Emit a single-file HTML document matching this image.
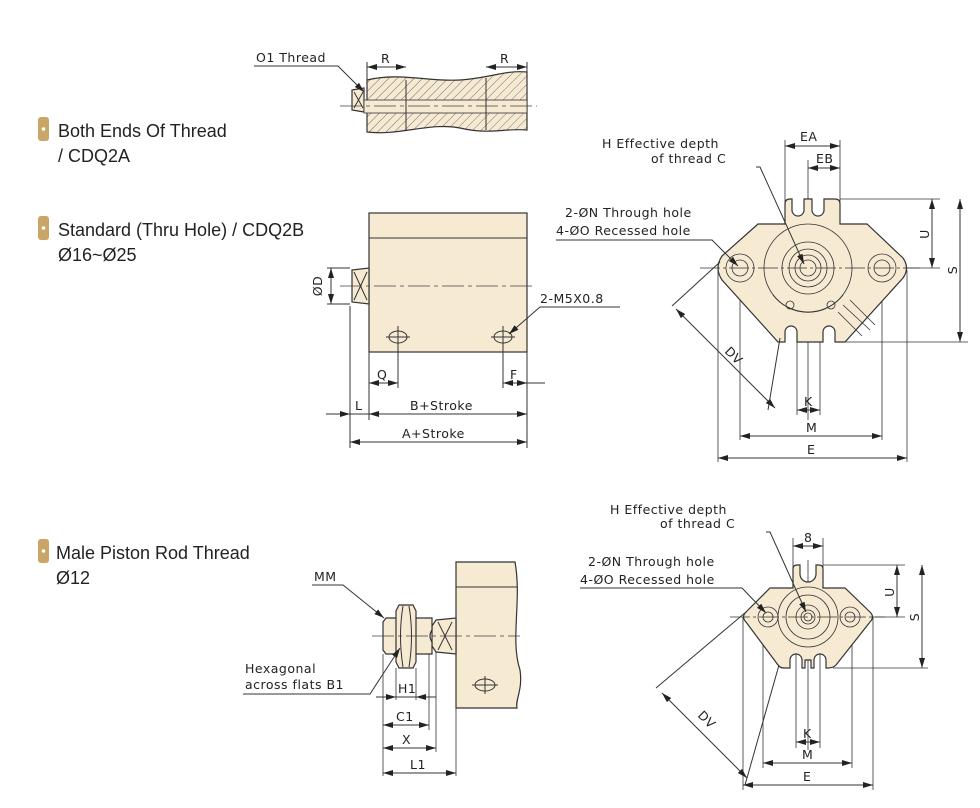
<!DOCTYPE html>
<html><head><meta charset="utf-8"><style>
body{margin:0;background:#fff;width:980px;height:808px;overflow:hidden}
svg{display:block}
.t{font-family:"Liberation Sans",sans-serif;font-size:18px;fill:#222}
.d{font-family:"DejaVu Sans","Liberation Sans",sans-serif;font-size:12.5px;fill:#222;letter-spacing:0.5px}
.s{stroke:#333;stroke-width:1;fill:none}
.f{fill:#f6ead3;stroke:#333;stroke-width:1.2}
.c{stroke:#444;stroke-width:0.8;fill:none;stroke-dasharray:22 4 4 4}
</style></head><body>
<svg width="980" height="808" viewBox="0 0 980 808">
<defs>
<marker id="a" viewBox="0 0 10 6" refX="10" refY="3" markerWidth="10" markerHeight="6" orient="auto-start-reverse"><path d="M0,0L10,3L0,6z" fill="#222"/></marker>
<pattern id="h" width="6" height="6" patternUnits="userSpaceOnUse" patternTransform="rotate(45)"><rect width="6" height="6" fill="#f6ead3"/><line x1="0" y1="0" x2="0" y2="6" stroke="#555" stroke-width="0.8"/></pattern>
</defs>
<!-- bullets -->
<g fill="#c9a667"><rect x="38" y="117" width="11" height="24" rx="3"/><rect x="38" y="216" width="11" height="24" rx="3"/><rect x="38" y="539" width="11" height="24" rx="3"/></g>
<g fill="#fff"><circle cx="43.5" cy="129" r="1.8"/><circle cx="43.5" cy="228" r="1.8"/><circle cx="43.5" cy="551" r="1.8"/></g>
<text class="t" x="58" y="137">Both Ends Of Thread</text>
<text class="t" x="58" y="162">/ CDQ2A</text>
<text class="t" x="58" y="236">Standard (Thru Hole) / CDQ2B</text>
<text class="t" x="58" y="261">Ø16~Ø25</text>
<text class="t" x="56" y="559">Male Piston Rod Thread</text>
<text class="t" x="56" y="584">Ø12</text>

<!-- top sectional -->
<path class="f" d="M352,90 L364,88 L364,112 L352,110 Z"/>
<path d="M367,80 C400,72 430,82 460,80 C490,78 505,70 527,72 L527,130 C505,128 490,135 460,128 C430,122 400,136 367,132 Z" fill="url(#h)" stroke="#333" stroke-width="1.2"/>
<rect x="364" y="100" width="163" height="13" fill="#f6ead3" stroke="#333" stroke-width="0.8"/>
<line class="s" x1="406" y1="80" x2="406" y2="130"/><line class="s" x1="486" y1="78" x2="486" y2="130"/>
<line class="c" x1="340" y1="106" x2="537" y2="106"/>
<line class="s" x1="354" y1="92" x2="363" y2="108"/><line class="s" x1="363" y1="92" x2="354" y2="108"/>
<line class="s" x1="367" y1="62" x2="367" y2="80"/><line class="s" x1="527" y1="62" x2="527" y2="72"/>
<line class="s" x1="367" y1="67" x2="406" y2="67" marker-start="url(#a)" marker-end="url(#a)"/>
<line class="s" x1="486" y1="67" x2="527" y2="67" marker-start="url(#a)" marker-end="url(#a)"/>
<text class="d" x="381" y="63">R</text><text class="d" x="500" y="63">R</text>
<text class="d" x="256" y="62">O1 Thread</text>
<polyline class="s" points="254,66 338,66 364,92" marker-end="url(#a)"/>

<!-- middle body -->
<rect class="f" x="369" y="213" width="158" height="139"/>
<line class="s" x1="369" y1="238" x2="527" y2="238"/>
<path class="f" d="M352,270 L369,268 L369,304 L352,302 Z"/>
<line class="s" x1="354" y1="272" x2="367" y2="300"/><line class="s" x1="367" y1="272" x2="354" y2="300"/>
<line class="c" x1="340" y1="286" x2="535" y2="286"/>
<ellipse class="s" cx="398" cy="337" rx="9" ry="6"/><ellipse class="s" cx="503" cy="337" rx="9" ry="6"/>
<line class="s" x1="386" y1="337" x2="410" y2="337"/><line class="s" x1="491" y1="337" x2="515" y2="337"/>
<line class="s" x1="398" y1="326" x2="398" y2="388"/><line class="s" x1="503" y1="326" x2="503" y2="388"/>
<line class="s" x1="327" y1="268" x2="350" y2="268"/><line class="s" x1="327" y1="304" x2="350" y2="304"/>
<line class="s" x1="331" y1="268" x2="331" y2="304" marker-start="url(#a)" marker-end="url(#a)"/>
<text class="d" transform="translate(322,286) rotate(-90)" text-anchor="middle">ØD</text>
<line class="s" x1="350" y1="306" x2="350" y2="448"/><line class="s" x1="369" y1="352" x2="369" y2="420"/><line class="s" x1="527" y1="352" x2="527" y2="448"/>
<line class="s" x1="369" y1="383" x2="398" y2="383" marker-start="url(#a)" marker-end="url(#a)"/>
<line class="s" x1="503" y1="383" x2="527" y2="383" marker-start="url(#a)" marker-end="url(#a)"/>
<line class="s" x1="527" y1="383" x2="545" y2="383"/>
<text class="d" x="377" y="379">Q</text><text class="d" x="510" y="379">F</text>
<line class="s" x1="326" y1="414" x2="350" y2="414" marker-end="url(#a)"/>
<line class="s" x1="350" y1="414" x2="369" y2="414"/>
<line class="s" x1="369" y1="414" x2="527" y2="414" marker-start="url(#a)" marker-end="url(#a)"/>
<text class="d" x="355" y="410">L</text><text class="d" x="410" y="410">B+Stroke</text>
<line class="s" x1="350" y1="442" x2="527" y2="442" marker-start="url(#a)" marker-end="url(#a)"/>
<text class="d" x="402" y="438">A+Stroke</text>
<text class="d" x="540" y="303">2-M5X0.8</text>
<polyline class="s" points="620,307 540,307 509,334" marker-end="url(#a)"/>

<!-- top right flange -->
<g stroke="#333" stroke-width="0.8" fill="none">
<line x1="785" y1="140" x2="785" y2="210"/><line x1="840" y1="140" x2="840" y2="210"/><line x1="808" y1="160" x2="808" y2="420"/>
<line x1="840" y1="199" x2="940" y2="199"/><line x1="880" y1="268" x2="940" y2="268"/><line x1="845" y1="342" x2="968" y2="342"/>
<line x1="718" y1="270" x2="718" y2="462"/><line x1="907" y1="270" x2="907" y2="462"/>
<line x1="740" y1="268" x2="740" y2="440"/><line x1="882" y1="268" x2="882" y2="440"/>
<line x1="797" y1="320" x2="797" y2="415"/><line x1="820" y1="320" x2="820" y2="415"/>
</g>
<path class="f" d="M785,204 Q785,199 790,199 L792,199 L792,210 A6,6 0 0 0 804,210 L804,199 L812,199 L812,210 A6,6 0 0 0 824,210 L824,199 L835,199 Q840,199 840,204 L840,224 L867,224 L903,258 Q910,268 903,278 L845,342 L835,342 L835,332 A6,6 0 0 0 823,332 L823,342 L797,342 L797,332 A6,6 0 0 0 785,332 L785,342 L778,342 L722,280 Q714,268 722,256 L758,224 L785,224 Z"/>
<g stroke="#333" stroke-width="0.8" fill="none">
<circle cx="740" cy="268" r="14"/><circle cx="740" cy="268" r="8"/>
<circle cx="882" cy="268" r="14"/><circle cx="882" cy="268" r="8"/>
<circle cx="808" cy="268" r="44"/><circle cx="808" cy="268" r="26"/><circle cx="808" cy="268" r="19"/><circle cx="808" cy="268" r="13"/><circle cx="808" cy="268" r="8"/>
<path d="M773,295 A44,44 0 0 0 843,295"/>
<circle cx="790" cy="305" r="4"/><circle cx="831" cy="305" r="4"/>
<line x1="700" y1="268" x2="920" y2="268" stroke-dasharray="20 3 3 3"/>
<line x1="843" y1="305" x2="870" y2="330"/><line x1="850" y1="300" x2="875" y2="325"/><line x1="838" y1="312" x2="862" y2="336"/>
</g>
<line class="s" x1="785" y1="146" x2="840" y2="146" marker-start="url(#a)" marker-end="url(#a)"/>
<line class="s" x1="808" y1="168" x2="840" y2="168" marker-start="url(#a)" marker-end="url(#a)"/>
<text class="d" x="800" y="141">EA</text><text class="d" x="816" y="163">EB</text>
<line class="s" x1="932" y1="199" x2="932" y2="268" marker-start="url(#a)" marker-end="url(#a)"/>
<line class="s" x1="960" y1="199" x2="960" y2="342" marker-start="url(#a)" marker-end="url(#a)"/>
<text class="d" transform="translate(929,234) rotate(-90)" text-anchor="middle">U</text>
<text class="d" transform="translate(957,270) rotate(-90)" text-anchor="middle">S</text>
<line class="s" x1="797" y1="410" x2="820" y2="410" marker-start="url(#a)" marker-end="url(#a)"/>
<line class="s" x1="740" y1="436" x2="882" y2="436" marker-start="url(#a)" marker-end="url(#a)"/>
<line class="s" x1="718" y1="458" x2="907" y2="458" marker-start="url(#a)" marker-end="url(#a)"/>
<text class="d" x="804" y="406">K</text><text class="d" x="806" y="432">M</text><text class="d" x="807" y="454">E</text>
<line class="s" x1="720" y1="262" x2="672" y2="306"/><line class="s" x1="780" y1="338" x2="768" y2="410"/>
<line class="s" x1="676" y1="309" x2="775" y2="408" marker-start="url(#a)" marker-end="url(#a)"/>
<text class="d" transform="translate(724,352) rotate(45)">DV</text>
<text class="d" x="602" y="148">H Effective depth</text>
<text class="d" x="651" y="163">of thread C</text>
<polyline class="s" points="756,167 760,167 804,264" marker-end="url(#a)"/>
<text class="d" x="565" y="217">2-ØN Through hole</text>
<text class="d" x="556" y="235">4-ØO Recessed hole</text>
<polyline class="s" points="556,240 712,240 738,266" marker-end="url(#a)"/>

<!-- bottom right flange -->
<g stroke="#333" stroke-width="0.8" fill="none">
<line x1="793" y1="538" x2="793" y2="572"/><line x1="823" y1="538" x2="823" y2="572"/><line x1="808" y1="560" x2="808" y2="750"/>
<line x1="823" y1="565" x2="905" y2="565"/><line x1="860" y1="617" x2="905" y2="617"/><line x1="833" y1="668" x2="928" y2="668"/>
<line x1="743" y1="617" x2="743" y2="790"/><line x1="873" y1="617" x2="873" y2="790"/>
<line x1="763" y1="617" x2="763" y2="768"/><line x1="852" y1="617" x2="852" y2="768"/>
<line x1="796" y1="650" x2="796" y2="748"/><line x1="820" y1="650" x2="820" y2="748"/>
</g>
<path class="f" d="M793,569 Q793,565 797,565 L800,565 L800,574 A8,8 0 0 0 816,574 L816,565 L819,565 Q823,565 823,569 L823,588 L845,588 L870,612 Q875,617 870,622 L836,665 Q833,668 828,668 L826,668 L826,660 A6,6 0 0 0 814,660 L814,668 L811,668 L811,660 L805,660 L805,668 L802,668 L802,660 A6,6 0 0 0 790,660 L790,668 L784,668 Q780,668 778,665 L746,622 Q741,617 746,612 L770,588 L793,588 Z"/>
<g stroke="#333" stroke-width="0.8" fill="none">
<circle cx="768" cy="617" r="10"/><circle cx="768" cy="617" r="5"/>
<circle cx="850" cy="617" r="10"/><circle cx="850" cy="617" r="5"/>
<circle cx="808" cy="617" r="30"/><circle cx="808" cy="617" r="22"/><circle cx="808" cy="617" r="12"/><circle cx="808" cy="617" r="7"/><circle cx="808" cy="617" r="4"/>
<line x1="730" y1="617" x2="885" y2="617" stroke-dasharray="20 3 3 3"/>
</g>
<line class="s" x1="793" y1="546" x2="823" y2="546" marker-start="url(#a)" marker-end="url(#a)"/>
<text class="d" x="804" y="542">8</text>
<line class="s" x1="897" y1="565" x2="897" y2="617" marker-start="url(#a)" marker-end="url(#a)"/>
<line class="s" x1="922" y1="565" x2="922" y2="668" marker-start="url(#a)" marker-end="url(#a)"/>
<text class="d" transform="translate(894,592) rotate(-90)" text-anchor="middle">U</text>
<text class="d" transform="translate(919,617) rotate(-90)" text-anchor="middle">S</text>
<line class="s" x1="796" y1="742" x2="820" y2="742" marker-start="url(#a)" marker-end="url(#a)"/>
<line class="s" x1="763" y1="763" x2="852" y2="763" marker-start="url(#a)" marker-end="url(#a)"/>
<line class="s" x1="743" y1="785" x2="873" y2="785" marker-start="url(#a)" marker-end="url(#a)"/>
<text class="d" x="803" y="738">K</text><text class="d" x="802" y="759">M</text><text class="d" x="803" y="781">E</text>
<line class="s" x1="746" y1="612" x2="656" y2="688"/><line class="s" x1="779" y1="665" x2="745" y2="785"/>
<line class="s" x1="662" y1="693" x2="747" y2="778" marker-start="url(#a)" marker-end="url(#a)"/>
<text class="d" transform="translate(697,716) rotate(45)">DV</text>
<text class="d" x="610" y="514">H Effective depth</text>
<text class="d" x="660" y="528">of thread C</text>
<polyline class="s" points="766,532 770,532 806,612" marker-end="url(#a)"/>
<text class="d" x="588" y="566">2-ØN Through hole</text>
<text class="d" x="580" y="584">4-ØO Recessed hole</text>
<polyline class="s" points="580,588 742,588 766,613" marker-end="url(#a)"/>

<!-- male rod -->
<path class="f" d="M456,562 L515,562 C522,600 510,640 520,670 C523,690 515,700 517,708 L456,708 Z"/>
<line class="s" x1="456" y1="587" x2="517" y2="587"/>
<ellipse class="s" cx="485" cy="685" rx="10" ry="6"/><line class="s" x1="472" y1="685" x2="498" y2="685"/><line class="s" x1="485" y1="676" x2="485" y2="694"/>
<path class="f" d="M436,620 L456,618 L456,654 L436,652 L432,646 L432,626 Z"/>
<line class="s" x1="438" y1="622" x2="452" y2="650"/><line class="s" x1="452" y1="622" x2="438" y2="650"/>
<path class="f" d="M383,622 L386,618 L432,618 L432,630 Q428,636 432,642 L432,654 L386,654 L383,650 Z"/>
<path class="f" d="M397,612 L400,606 L411,606 L414,612 L414,662 L411,666 L400,666 L397,662 Z"/>
<path class="f" d="M395,606 L415,606 L415,666 L395,666 Z" opacity="0"/>
<path class="f" d="M396,611 L399,605 L413,605 L416,611 L416,662 L413,668 L399,668 L396,662 Z"/>
<path class="s" d="M403,606 Q398,636 403,667"/><path class="s" d="M409,606 Q414,636 409,667"/>
<line class="c" x1="372" y1="636" x2="520" y2="636"/>
<text class="d" x="314" y="581">MM</text>
<polyline class="s" points="312,585 343,585 384,618" marker-end="url(#a)"/>
<text class="d" x="245" y="673">Hexagonal</text>
<text class="d" x="245" y="689">across flats B1</text>
<polyline class="s" points="243,694 370,694 400,648" marker-end="url(#a)"/>
<g stroke="#333" stroke-width="0.8"><line x1="383" y1="654" x2="383" y2="776"/><line x1="396" y1="668" x2="396" y2="700"/><line x1="416" y1="668" x2="416" y2="700"/><line x1="429" y1="654" x2="429" y2="730"/><line x1="436" y1="652" x2="436" y2="752"/><line x1="456" y1="708" x2="456" y2="776"/></g>
<line class="s" x1="376" y1="697" x2="396" y2="697" marker-end="url(#a)"/><line class="s" x1="396" y1="697" x2="416" y2="697"/><line class="s" x1="436" y1="697" x2="416" y2="697" marker-end="url(#a)"/>
<text class="d" x="398" y="693">H1</text>
<line class="s" x1="383" y1="725" x2="429" y2="725" marker-start="url(#a)" marker-end="url(#a)"/>
<text class="d" x="396" y="721">C1</text>
<line class="s" x1="383" y1="748" x2="436" y2="748" marker-start="url(#a)" marker-end="url(#a)"/>
<text class="d" x="402" y="744">X</text>
<line class="s" x1="383" y1="773" x2="456" y2="773" marker-start="url(#a)" marker-end="url(#a)"/>
<text class="d" x="410" y="769">L1</text>
</svg>
</body></html>
